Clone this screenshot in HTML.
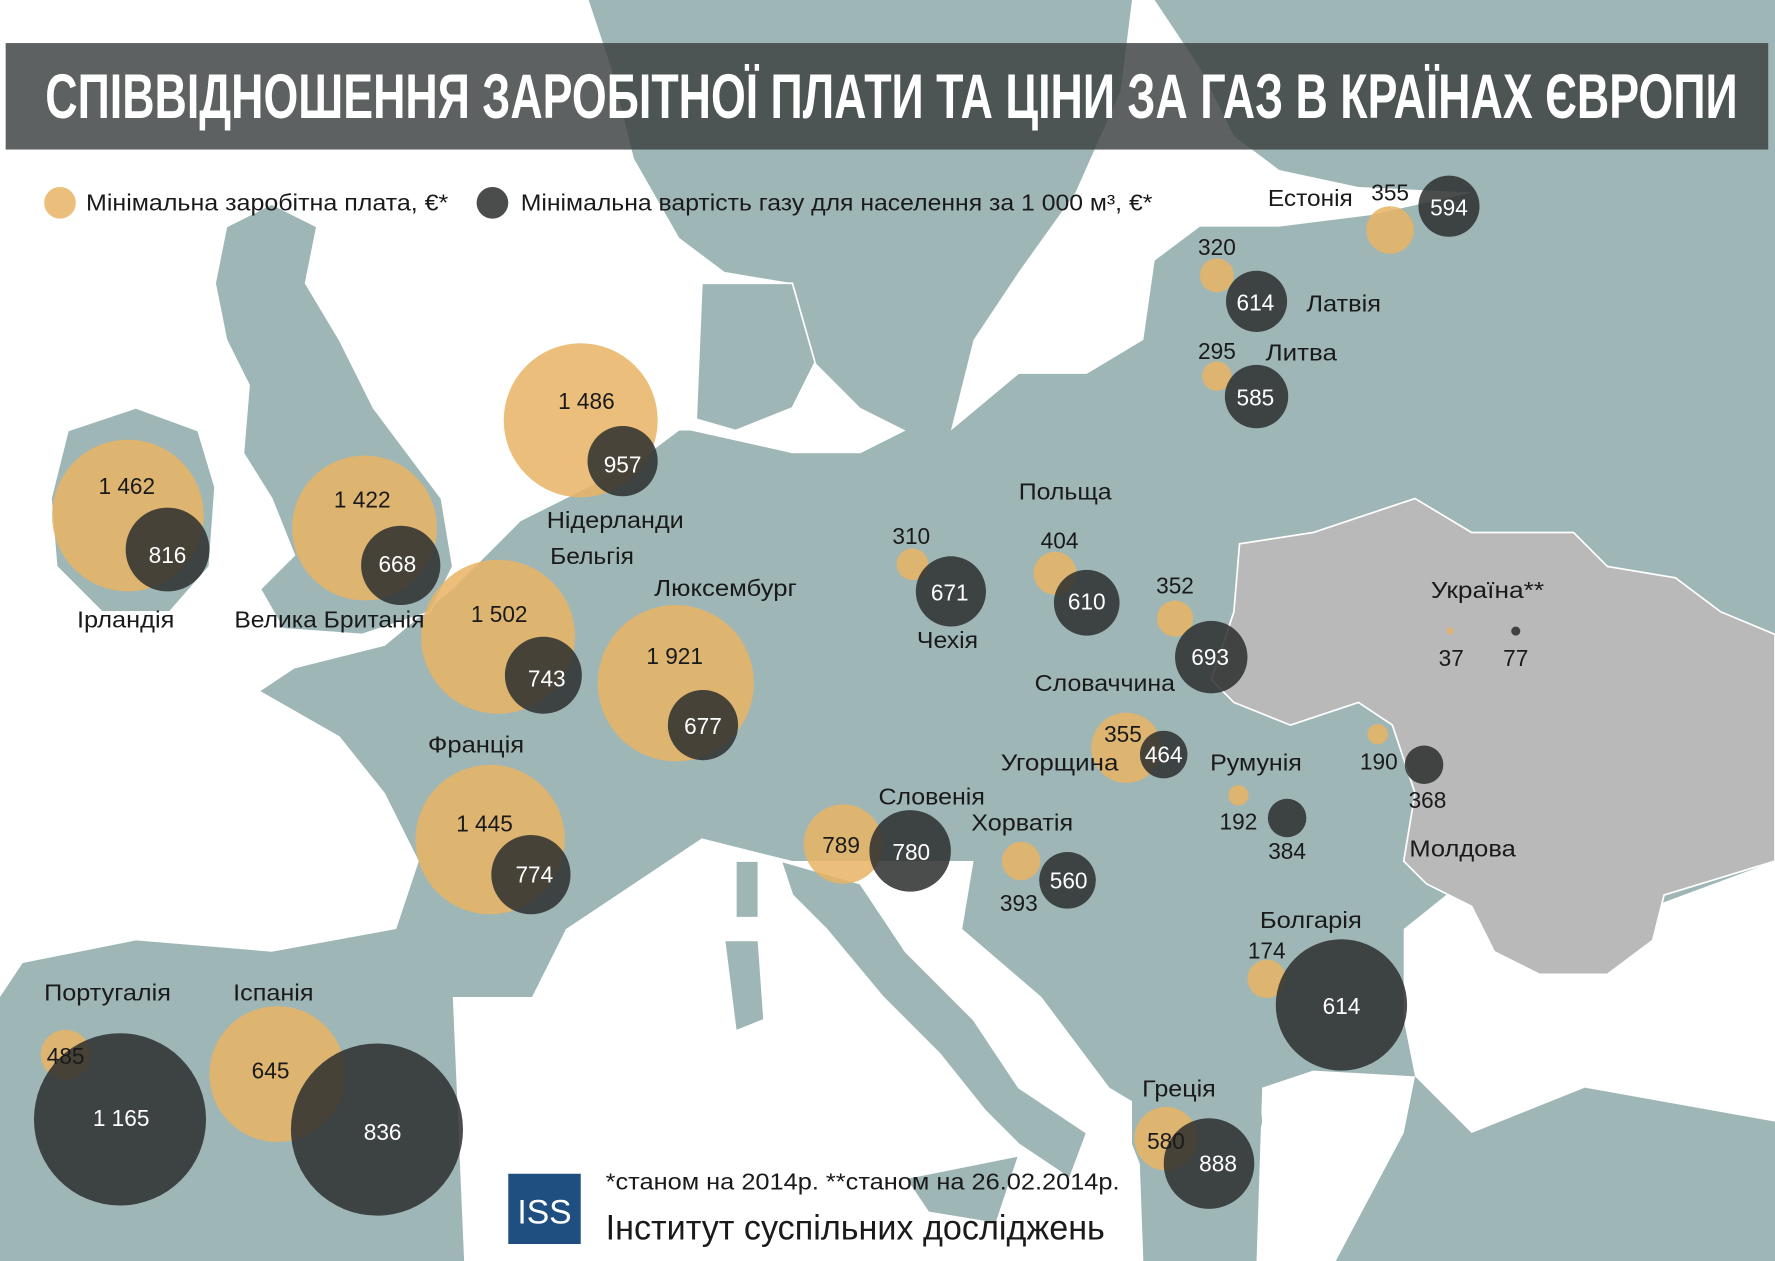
<!DOCTYPE html>
<html><head><meta charset="utf-8"><style>
html,body{margin:0;padding:0;background:#fff;}
svg{display:block}
text{font-family:"Liberation Sans Narrow","Liberation Sans",sans-serif;fill:#1a1a1a;font-size:20px}
.w{fill:#fff}
.t{fill:#e8b464;opacity:.85}
.d{fill:#2c2e2e;opacity:.85}
</style></head><body>
<svg width="1775" height="1261" viewBox="0 0 1568 1113" preserveAspectRatio="none" xmlns="http://www.w3.org/2000/svg">
<rect width="1568" height="1113" fill="#9fb6b7"/>
<g fill="#fff">
<path d="M0,0 L520,0 L540,60 L560,140 L600,210 L640,240 L700,250 L720,320 L760,360 L800,380 L760,400 L700,400 L610,380 L600,380 L560,410 L500,440 L460,460 L400,520 L340,570 L260,590 L230,610 L300,650 L340,700 L370,760 L350,820 L240,840 L120,830 L20,850 L0,880 Z"/>
<path d="M840,380 L860,300 L900,240 L950,170 L990,80 L1000,0 L1020,0 L1060,60 L1090,120 L1130,150 L1200,165 L1300,170 L1210,190 L1130,200 L1060,200 L1020,230 L1010,300 L960,330 L900,330 Z"/>
<path d="M410,1113 L400,880 L470,880 L500,820 L560,780 L620,740 L700,760 L770,760 L860,760 L850,820 L920,880 L980,960 L1005,975 L1010,1113 Z"/>
<path d="M1110,1113 L1115,960 L1160,945 L1250,950 L1240,1000 L1180,1113 Z"/>
<path d="M1240,820 L1290,780 L1460,800 L1568,760 L1568,990 L1400,960 L1300,1000 L1250,950 L1240,900 Z"/>
</g>
<g fill="#9fb6b7" stroke="#fff" stroke-width="1.5">
<path d="M60,380 L120,360 L175,380 L190,430 L185,500 L150,540 L90,540 L50,500 L45,440 Z"/>
<path d="M200,200 L240,180 L280,200 L270,250 L300,300 L330,360 L360,400 L390,440 L400,500 L380,540 L320,560 L250,555 L230,520 L260,490 L240,440 L215,400 L220,340 L200,300 L190,250 Z"/>
<path d="M620,250 L700,250 L720,320 L700,360 L650,380 L615,370 Z"/>
<path d="M690,760 L760,780 L800,840 L860,900 L900,960 L960,1000 L945,1040 L900,1010 L870,980 L830,930 L780,880 L730,820 L700,790 Z"/>
<path d="M800,1040 L900,1020 L880,1080 L820,1070 Z"/>
<path d="M640,830 L670,830 L675,900 L650,910 Z"/>
<path d="M650,760 L670,760 L670,810 L650,810 Z"/>
</g>
<path d="M1000,960 L1060,930 L1110,935 L1115,990 L1100,1060 L1060,1090 L1020,1060 L1000,1010 Z" fill="#9fb6b7"/>
<path d="M1095,480 L1160,470 L1250,440 L1300,470 L1390,470 L1420,500 L1480,510 L1520,540 L1568,560 L1568,760 L1470,790 L1460,830 L1420,860 L1360,860 L1320,840 L1300,800 L1260,780 L1240,760 L1250,700 L1230,640 L1200,620 L1140,640 L1090,620 L1070,600 L1090,540 Z" fill="#b9b9b9" stroke="#fff" stroke-width="1.5"/>
<rect x="5" y="38" width="1557" height="94" fill="#3b3e3e" opacity=".82"/>
<text x="40" y="104" textLength="1495" lengthAdjust="spacingAndGlyphs" style="font-weight:bold;font-size:56px;fill:#fff">СПІВВІДНОШЕННЯ ЗАРОБІТНОЇ ПЛАТИ ТА ЦІНИ ЗА ГАЗ В КРАЇНАХ ЄВРОПИ</text>
<circle cx="53" cy="179" r="14" class="t"/>
<text x="76" y="186" textLength="320" lengthAdjust="spacingAndGlyphs">Мінімальна заробітна плата, €*</text>
<circle cx="435" cy="179" r="14" class="d"/>
<text x="460" y="186" textLength="558" lengthAdjust="spacingAndGlyphs">Мінімальна вартість газу для населення за 1 000 м³, €*</text>
<g>
<circle cx="113" cy="455" r="67" class="t"/><circle cx="148" cy="485" r="37" class="d"/>
<circle cx="322" cy="466" r="64" class="t"/><circle cx="354" cy="499" r="35" class="d"/>
<circle cx="513" cy="371" r="68" class="t"/><circle cx="550" cy="407" r="31" class="d"/>
<circle cx="440" cy="562" r="68" class="t"/><circle cx="480" cy="596" r="34" class="d"/>
<circle cx="597" cy="603" r="69" class="t"/><circle cx="621" cy="640" r="31" class="d"/>
<circle cx="433" cy="741" r="66" class="t"/><circle cx="469" cy="772" r="35" class="d"/>
<circle cx="58" cy="931" r="22" class="t"/><circle cx="106" cy="988" r="76" class="d"/>
<circle cx="245" cy="948" r="60" class="t"/><circle cx="333" cy="997" r="76" class="d"/>
<circle cx="806" cy="498" r="14" class="t"/><circle cx="840" cy="522" r="31" class="d"/>
<circle cx="932" cy="506" r="19" class="t"/><circle cx="960" cy="532" r="29" class="d"/>
<circle cx="1038" cy="546" r="16" class="t"/><circle cx="1070" cy="580" r="32" class="d"/>
<circle cx="995" cy="660" r="31" class="t"/><circle cx="1028" cy="666" r="21" class="d"/>
<circle cx="745" cy="745" r="35" class="t"/><circle cx="804" cy="751" r="36" class="d"/>
<circle cx="902" cy="760" r="17" class="t"/><circle cx="943" cy="777" r="25" class="d"/>
<circle cx="1094" cy="702" r="9" class="t"/><circle cx="1137" cy="722" r="17" class="d"/>
<circle cx="1217" cy="648" r="9" class="t"/><circle cx="1258" cy="675" r="17" class="d"/>
<circle cx="1281" cy="557" r="3" class="t"/><circle cx="1339" cy="557" r="4" class="d"/>
<circle cx="1119" cy="864" r="17" class="t"/><circle cx="1185" cy="887" r="58" class="d"/>
<circle cx="1030" cy="1005" r="28" class="t"/><circle cx="1068" cy="1027" r="40" class="d"/>
<circle cx="1228" cy="203" r="21" class="t"/><circle cx="1280" cy="182" r="27" class="d"/>
<circle cx="1075" cy="243" r="15" class="t"/><circle cx="1110" cy="266" r="27" class="d"/>
<circle cx="1075" cy="332" r="13" class="t"/><circle cx="1110" cy="350" r="28" class="d"/>
</g>
<g text-anchor="middle">
<text x="112" y="436">1 462</text><text x="148" y="497" class="w">816</text>
<text x="320" y="448">1 422</text><text x="351" y="505" class="w">668</text>
<text x="518" y="361">1 486</text><text x="550" y="417" class="w">957</text>
<text x="441" y="549">1 502</text><text x="483" y="606" class="w">743</text>
<text x="596" y="586">1 921</text><text x="621" y="648" class="w">677</text>
<text x="428" y="734">1 445</text><text x="472" y="779" class="w">774</text>
<text x="58" y="939">485</text><text x="107" y="994" class="w">1 165</text>
<text x="239" y="952">645</text><text x="338" y="1006" class="w">836</text>
<text x="805" y="480">310</text><text x="839" y="530" class="w">671</text>
<text x="936" y="484">404</text><text x="960" y="538" class="w">610</text>
<text x="1038" y="524">352</text><text x="1069" y="587" class="w">693</text>
<text x="992" y="655">355</text><text x="1028" y="673" class="w">464</text>
<text x="743" y="753">789</text><text x="805" y="759" class="w">780</text>
<text x="900" y="804">393</text><text x="944" y="784" class="w">560</text>
<text x="1094" y="732">192</text><text x="1137" y="758">384</text>
<text x="1218" y="679">190</text><text x="1261" y="713">368</text>
<text x="1282" y="588">37</text><text x="1339" y="588">77</text>
<text x="1119" y="846">174</text><text x="1185" y="895" class="w">614</text>
<text x="1030" y="1014">580</text><text x="1076" y="1034" class="w">888</text>
<text x="1228" y="177">355</text><text x="1280" y="190" class="w">594</text>
<text x="1075" y="225">320</text><text x="1109" y="274" class="w">614</text>
<text x="1075" y="317">295</text><text x="1109" y="358" class="w">585</text>
</g>
<g>
<text x="68" y="554" textLength="86" lengthAdjust="spacingAndGlyphs">Ірландія</text>
<text x="207" y="554" textLength="168" lengthAdjust="spacingAndGlyphs">Велика Британія</text>
<text x="483" y="466" textLength="121" lengthAdjust="spacingAndGlyphs">Нідерланди</text>
<text x="486" y="498" textLength="74" lengthAdjust="spacingAndGlyphs">Бельгія</text>
<text x="578" y="526" textLength="126" lengthAdjust="spacingAndGlyphs">Люксембург</text>
<text x="378" y="664" textLength="85" lengthAdjust="spacingAndGlyphs">Франція</text>
<text x="39" y="883" textLength="112" lengthAdjust="spacingAndGlyphs">Португалія</text>
<text x="206" y="883" textLength="71" lengthAdjust="spacingAndGlyphs">Іспанія</text>
<text x="810" y="572" textLength="54" lengthAdjust="spacingAndGlyphs">Чехія</text>
<text x="900" y="441" textLength="82" lengthAdjust="spacingAndGlyphs">Польща</text>
<text x="914" y="610" textLength="124" lengthAdjust="spacingAndGlyphs">Словаччина</text>
<text x="884" y="680" textLength="104" lengthAdjust="spacingAndGlyphs">Угорщина</text>
<text x="1069" y="680" textLength="81" lengthAdjust="spacingAndGlyphs">Румунія</text>
<text x="776" y="710" textLength="94" lengthAdjust="spacingAndGlyphs">Словенія</text>
<text x="858" y="733" textLength="90" lengthAdjust="spacingAndGlyphs">Хорватія</text>
<text x="1264" y="528" textLength="100" lengthAdjust="spacingAndGlyphs">Україна**</text>
<text x="1245" y="756" textLength="94" lengthAdjust="spacingAndGlyphs">Молдова</text>
<text x="1113" y="819" textLength="90" lengthAdjust="spacingAndGlyphs">Болгарія</text>
<text x="1009" y="968" textLength="65" lengthAdjust="spacingAndGlyphs">Греція</text>
<text x="1120" y="182" textLength="75" lengthAdjust="spacingAndGlyphs">Естонія</text>
<text x="1154" y="275" textLength="66" lengthAdjust="spacingAndGlyphs">Латвія</text>
<text x="1118" y="318" textLength="63" lengthAdjust="spacingAndGlyphs">Литва</text>
</g>
<rect x="449" y="1036" width="64" height="62" fill="#1f4f80"/>
<text x="481" y="1080" text-anchor="middle" class="w" style="font-size:30px" textLength="48" lengthAdjust="spacingAndGlyphs">ISS</text>
<text x="535" y="1050" textLength="454" lengthAdjust="spacingAndGlyphs">*станом на 2014р.  **станом на 26.02.2014р.</text>
<text x="535" y="1094" style="font-size:31px" textLength="441" lengthAdjust="spacingAndGlyphs">Інститут суспільних досліджень</text>
</svg>
</body></html>
